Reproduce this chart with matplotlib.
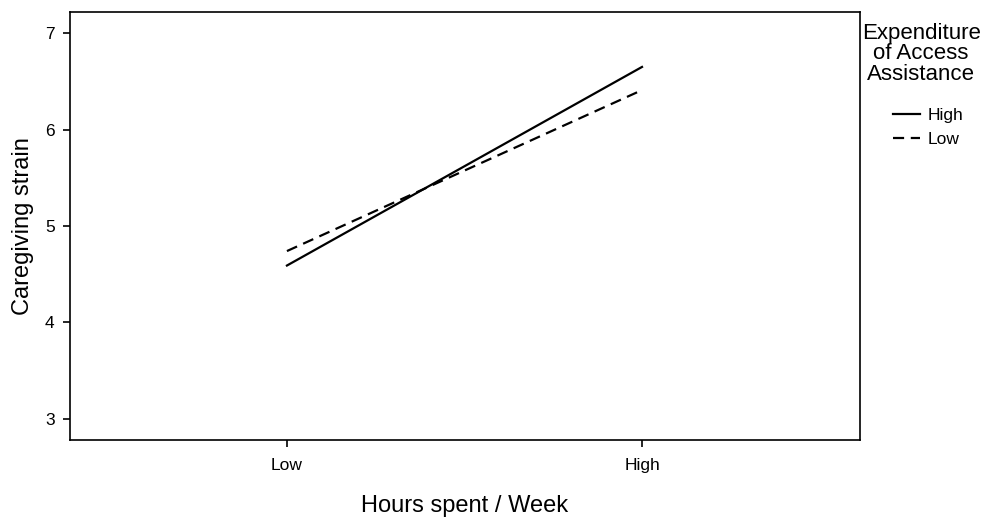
import matplotlib.pyplot as plt

# data
hours = ["Low", "High"]
strain_high = [4.59, 6.65]   # Expenditure of Access Assistance = High
strain_low = [4.74, 6.41]    # Expenditure of Access Assistance = Low

plt.rcParams['font.family'] = ['Liberation Sans', 'DejaVu Sans']

fig = plt.figure(figsize=(9.83, 5.17), dpi=100)
ax = fig.add_axes([0.0712, 0.1489, 0.8037, 0.8279])

x = list(range(len(hours)))
ax.plot(x, strain_high, color='k', linewidth=1.6, linestyle='-', label='High')
ax.plot(x, strain_low, color='k', linewidth=1.6, linestyle=(0, (5, 3)), label='Low')

ax.set_xlim(-0.611, 1.614)
ax.set_ylim(2.78, 7.22)
ax.set_xticks(x)
ax.set_xticklabels(hours)
ax.set_yticks([3, 4, 5, 6, 7])

for s in ax.spines.values():
    s.set_linewidth(1.2)
ax.tick_params(direction='out', length=5, width=1.2, labelsize=12.5, pad=6)
ax.tick_params(axis='x', pad=8)

ax.set_xlabel('Hours spent / Week', fontsize=17, labelpad=16)
ax.set_ylabel('Caregiving strain', fontsize=17, labelpad=8)

# legend title drawn separately so the entries can sit a bit to the right
fig.text(0.937, 0.8956, 'Expenditure\nof Access\nAssistance', fontsize=16,
         ha='center', va='center', multialignment='center', linespacing=0.95)
leg = ax.legend(loc='upper left', bbox_to_anchor=(0.8921, 0.8220),
                bbox_transform=fig.transFigure, frameon=False, fontsize=12.5,
                handlelength=1.6, handletextpad=0.4, labelspacing=0.5)

fig.savefig('out.png', dpi=100)
